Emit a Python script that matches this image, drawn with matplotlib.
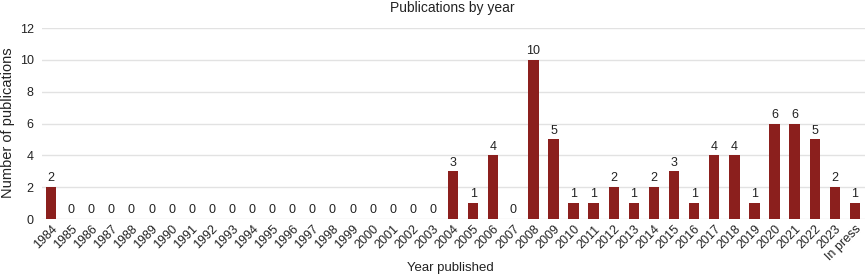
import matplotlib
matplotlib.use('Agg')
import matplotlib.pyplot as plt

years = [str(y) for y in range(1984, 2024)] + ['In press']
counts = [2] + [0] * 19 + [3, 1, 4, 0, 10, 5, 1, 1, 2, 1, 2, 3, 1, 4, 4, 1, 6, 6, 5, 2, 1]

plt.rcParams['font.family'] = ['Liberation Sans', 'DejaVu Sans']

fig = plt.figure(figsize=(8.65, 2.78), dpi=100)
ax = fig.add_axes([0.0486, 0.212, 0.9514, 0.687])

x = range(len(years))
bars = ax.bar(x, counts, width=0.52, color='#8b1f1d', zorder=3)
ax.bar_label(bars, padding=2, fontsize=9, color='#222222')

ax.set_xlim(-0.45, len(years) - 0.5)
ax.set_ylim(0, 12)
ax.set_yticks(range(0, 13, 2))
ax.set_xticks(list(x))
ax.set_xticklabels(years, rotation=45, ha='right', rotation_mode='anchor', fontsize=9)
ax.tick_params(axis='y', labelsize=9, length=0, pad=6, labelcolor='#222222')
ax.tick_params(axis='x', length=0, pad=3, labelcolor='#222222')
ax.grid(axis='y', color='#e2e2e2', linewidth=1, zorder=0)
for s in ax.spines.values():
    s.set_visible(False)

# title and axis labels placed on the plot area's centre
fig.text(452 / 865, 1 - 8 / 278, 'Publications by year', fontsize=10, ha='center', va='center', color='#222222')
fig.text(450 / 865, 1 - 268 / 278, 'Year published', fontsize=9.5, ha='center', va='center', color='#222222')
fig.text(8 / 865, 1 - 123 / 278, 'Number of publications', fontsize=10.5, rotation=90,
         ha='center', va='center', color='#222222')

fig.savefig('out.png', dpi=100)
